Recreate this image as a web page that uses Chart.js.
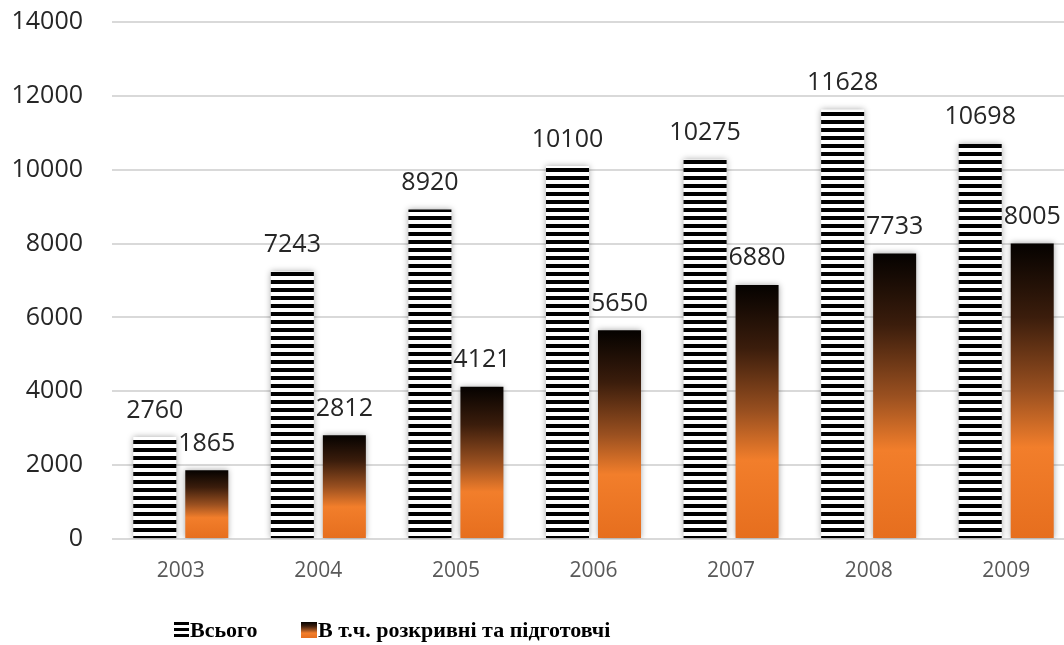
<!DOCTYPE html>
<html>
<head>
<meta charset="utf-8">
<script src="https://cdn.jsdelivr.net/npm/chart.js@4.4.1/dist/chart.umd.min.js"></script>
<style>
  html, body { margin: 0; padding: 0; overflow: hidden; background: #ffffff; }
  #wrap { width: 1075px; height: 645px; }
</style>
</head>
<body>
<div id="wrap"><canvas id="chart" width="1075" height="645"></canvas></div>
<script>
// Years on the category axis
const years = ['2003', '2004', '2005', '2006', '2007', '2008', '2009'];
// Total volume per year
const totalValues = [2760, 7243, 8920, 10100, 10275, 11628, 10698];
// Of which: stripping and preparatory works
const strippingValues = [1865, 2812, 4121, 5650, 6880, 7733, 8005];
// Value axis range
const yMin = 0;
const yMax = 14000;
const yStep = 2000;
// Legend captions
const seriesNames = ['Всього', 'В т.ч. розкривні та підготовчі'];

const canvas = document.getElementById('chart');
const ctx = canvas.getContext('2d');

// Horizontal black/white stripes for the "total" bars
function makeStripes(c) {
  const tile = document.createElement('canvas');
  tile.width = 8; tile.height = 8;
  const t = tile.getContext('2d');
  t.fillStyle = '#ffffff'; t.fillRect(0, 0, 8, 8);
  t.fillStyle = '#000000'; t.fillRect(0, 0, 8, 4);
  return c.createPattern(tile, 'repeat');
}
const stripes = makeStripes(ctx);

// Black-to-orange vertical fade, spanning one bar from top to base
function addFadeStops(g) {
  g.addColorStop(0.00, '#050200');
  g.addColorStop(0.25, '#3b1d0c');
  g.addColorStop(0.50, '#9a5020');
  g.addColorStop(0.69, '#f27e2b');
  g.addColorStop(1.00, '#e66e1e');
  return g;
}

function fadeFill(context) {
  const chart = context.chart;
  const area = chart.chartArea;
  if (!area || context.type !== 'data') return '#f07d2a';
  const y = chart.scales.y;
  const top = y.getPixelForValue(context.raw);
  const base = y.getPixelForValue(0);
  return addFadeStops(chart.ctx.createLinearGradient(0, top, 0, base));
}

// Soft shadow behind bars, then the value captions above them
const barDecor = {
  id: 'barDecor',
  beforeDatasetsDraw(chart) {
    const c = chart.ctx;
    c.save();
    c.shadowColor = 'rgba(0,0,0,0.35)';
    c.shadowBlur = 6;
    c.shadowOffsetX = 0;
    c.shadowOffsetY = 0;
  },
  afterDatasetsDraw(chart) {
    const c = chart.ctx;
    c.restore();
    c.save();
    c.font = '25px "Open Sans"';
    c.fillStyle = '#262626';
    c.textAlign = 'center';
    c.textBaseline = 'alphabetic';
    chart.data.datasets.forEach((ds, di) => {
      const meta = chart.getDatasetMeta(di);
      meta.data.forEach((bar, i) => {
        c.fillText(String(ds.data[i]), bar.x, bar.y - 19.5);
      });
    });
    c.restore();
  }
};

// Legend row under the axis
const legendRow = {
  id: 'legendRow',
  afterDraw(chart) {
    const c = chart.ctx;
    c.save();
    // stripes icon
    c.fillStyle = '#000000';
    c.fillRect(174, 622, 15, 3);
    c.fillRect(174, 628, 15, 3);
    c.fillRect(174, 634, 15, 3);
    // fade icon
    const g = addFadeStops(c.createLinearGradient(0, 622, 0, 638));
    c.fillStyle = g;
    c.fillRect(301, 622, 16, 16);
    c.font = 'bold 22px "Liberation Serif"';
    c.fillStyle = '#000000';
    c.textAlign = 'left';
    c.textBaseline = 'alphabetic';
    c.fillText(seriesNames[0], 190, 637);
    c.fillText(seriesNames[1], 318, 637);
    c.restore();
  }
};

new Chart(ctx, {
  type: 'bar',
  data: {
    labels: years,
    datasets: [
      {
        label: seriesNames[0],
        data: totalValues,
        backgroundColor: stripes,
        borderWidth: 0
      },
      {
        label: seriesNames[1],
        data: strippingValues,
        backgroundColor: fadeFill,
        borderWidth: 0
      }
    ]
  },
  options: {
    responsive: false,
    animation: false,
    devicePixelRatio: 1,
    categoryPercentage: 0.756,
    barPercentage: 0.827,
    layout: { padding: { top: 22, right: 0, bottom: 50, left: 0 } },
    plugins: {
      legend: { display: false },
      tooltip: { enabled: false }
    },
    scales: {
      x: {
        grid: { display: false, drawTicks: false },
        border: { display: false },
        ticks: {
          color: '#595959',
          font: { family: 'Open Sans', size: 21 },
          padding: 19,
          maxRotation: 0
        },
        afterFit(scale) { scale.height = 56; }
      },
      y: {
        min: yMin,
        max: yMax,
        ticks: {
          stepSize: yStep,
          color: '#262626',
          font: { family: 'Open Sans', size: 25 },
          padding: 29,
          callback: (v) => String(v)
        },
        grid: { color: '#d9d9d9', lineWidth: 2, drawTicks: false },
        border: { display: false },
        afterFit(scale) {
          scale.width = 112;
          scale.paddingTop = 0;
          scale.paddingBottom = 0;
        }
      }
    }
  },
  plugins: [barDecor, legendRow]
});
</script>
</body>
</html>
